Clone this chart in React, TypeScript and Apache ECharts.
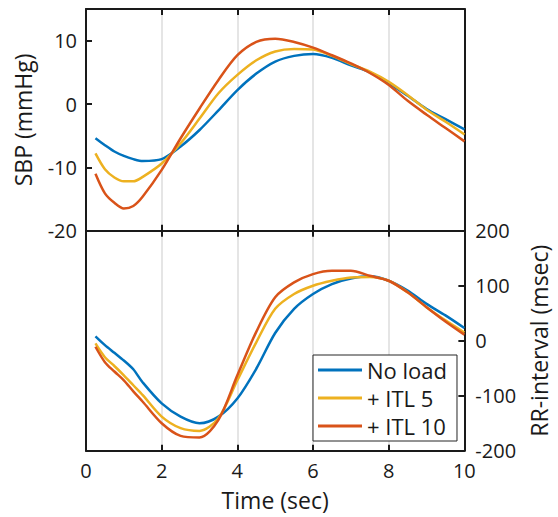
import { useEffect, useRef } from "react";
import * as echarts from "echarts";

const time = [0.25, 0.5, 0.75, 1, 1.25, 1.5, 2, 2.5, 3, 3.5, 4, 4.5, 5, 5.5, 6, 6.5, 7, 7.5, 8, 8.5, 9, 9.5, 10];
const seriesNames = ["No load", "+ ITL 5", "+ ITL 10"];
const colors = ["#0072BD", "#EDB120", "#D95319"];

const sbpNoLoad = [-5.4, -6.5, -7.5, -8.2, -8.7, -9.0, -8.7, -6.7, -4.1, -1.0, 2.2, 4.8, 6.7, 7.6, 7.9, 7.3, 6.1, 5.0, 3.3, 1.3, -0.8, -2.4, -4.0];
const sbpItl5 = [-7.8, -10.3, -11.6, -12.2, -12.2, -11.5, -9.4, -6.2, -2.3, 1.7, 4.6, 6.9, 8.3, 8.7, 8.6, 7.6, 6.3, 5.1, 3.5, 1.4, -0.9, -2.8, -4.8];
const sbpItl10 = [-11.0, -14.1, -15.6, -16.5, -16.1, -14.6, -10.4, -5.4, -0.7, 3.8, 7.7, 9.8, 10.3, 9.8, 8.9, 7.7, 6.4, 4.9, 3.0, 0.5, -1.7, -3.8, -5.9];

const rrNoLoad = [8, -8, -22, -36, -52, -76, -114, -138, -150, -138, -105, -51, 14, 58, 85, 103, 113, 117, 109, 91, 67, 46, 23];
const rrItl5 = [-5, -30, -46, -63, -81, -99, -138, -159, -164, -141, -72, -3, 58, 85, 100, 109, 115, 116, 109, 88, 61, 37, 15];
const rrItl10 = [-11, -39, -56, -72, -92, -111, -150, -173, -176, -144, -63, 16, 79, 106, 121, 127, 127, 118, 109, 88, 61, 35, 11];

const sbpRange = { min: -20, max: 15, interval: 10 };
const rrRange = { min: -200, max: 200, interval: 100 };
const timeRange = { min: 0, max: 10, interval: 2 };

const FONT = "'Open Sans', 'Noto Sans', sans-serif";
const INK = "#1a1a1a";
const GRIDC = "#dcdcdc";

export default function App() {
  const ref = useRef<HTMLDivElement>(null);
  useEffect(() => {
    if (!ref.current) return;
    const chart = echarts.init(ref.current, undefined, { renderer: "svg" });
    const pairs = (vals: number[]) => time.map((t, i) => [t, vals[i]]);
    const sbp = [sbpNoLoad, sbpItl5, sbpItl10];
    const rr = [rrNoLoad, rrItl5, rrItl10];
    const axisLine = { show: true, onZero: false, lineStyle: { color: INK, width: 2 } };
    const tickIn = { show: true, inside: true, length: 6, lineStyle: { color: INK, width: 2 } };
    const labelStyle = { fontFamily: FONT, fontSize: 20, color: INK };
    const nameStyle = { fontFamily: FONT, fontSize: 23, color: INK };

    const series: any[] = [];
    sbp.forEach((vals, i) =>
      series.push({
        type: "line",
        name: seriesNames[i],
        xAxisIndex: 0,
        yAxisIndex: 0,
        data: pairs(vals),
        showSymbol: false,
        symbol: "none",
        smooth: 0.3,
        lineStyle: { color: colors[i], width: 2.5 },
        itemStyle: { color: colors[i] },
      })
    );
    rr.forEach((vals, i) =>
      series.push({
        type: "line",
        name: seriesNames[i],
        xAxisIndex: 2,
        yAxisIndex: 3,
        data: pairs(vals),
        showSymbol: false,
        symbol: "none",
        smooth: 0.3,
        lineStyle: { color: colors[i], width: 2.5 },
        itemStyle: { color: colors[i] },
      })
    );

    chart.setOption({
      animation: false,
      backgroundColor: "#ffffff",
      textStyle: { fontFamily: FONT },
      grid: [
        { left: 86, top: 9, width: 378.5, height: 221.7 },
        { left: 86, top: 230.7, width: 378.5, height: 220 },
      ],
      xAxis: [
        {
          type: "value", gridIndex: 0, position: "bottom", ...timeRange,
          axisLine, axisTick: tickIn, axisLabel: { show: false },
          splitLine: { show: true, lineStyle: { color: GRIDC, width: 1.5 } },
        },
        {
          type: "value", gridIndex: 0, position: "top", ...timeRange,
          axisLine, axisTick: tickIn, axisLabel: { show: false }, splitLine: { show: false },
        },
        {
          type: "value", gridIndex: 1, position: "bottom", ...timeRange,
          axisLine, axisTick: tickIn,
          axisLabel: { ...labelStyle, margin: 10 },
          splitLine: { show: true, lineStyle: { color: GRIDC, width: 1.5 } },
          name: "Time (sec)", nameLocation: "middle", nameGap: 38,
          nameTextStyle: nameStyle,
        },
        {
          type: "value", gridIndex: 1, position: "top", ...timeRange,
          axisLine, axisTick: tickIn, axisLabel: { show: false }, splitLine: { show: false },
        },
      ],
      yAxis: [
        {
          type: "value", gridIndex: 0, position: "left", ...sbpRange,
          axisLine, axisTick: tickIn,
          axisLabel: { ...labelStyle, margin: 9, showMaxLabel: false },
          splitLine: { show: false },
          name: "SBP (mmHg)", nameLocation: "middle", nameGap: 52,
          nameTextStyle: nameStyle,
        },
        {
          type: "value", gridIndex: 0, position: "right", ...sbpRange,
          axisLine, axisTick: { show: false }, axisLabel: { show: false }, splitLine: { show: false },
        },
        {
          type: "value", gridIndex: 1, position: "left", ...rrRange,
          axisLine, axisTick: { show: false }, axisLabel: { show: false }, splitLine: { show: false },
        },
        {
          type: "value", gridIndex: 1, position: "right", ...rrRange,
          axisLine, axisTick: tickIn,
          axisLabel: { ...labelStyle, margin: 11 },
          splitLine: { show: false },
          name: "RR-interval (msec)", nameLocation: "middle", nameGap: 60, nameRotate: 90,
          nameTextStyle: nameStyle,
        },
      ],
      legend: {
        data: seriesNames,
        orient: "vertical",
        left: 313,
        top: 355,
        icon: "rect",
        itemWidth: 44,
        itemHeight: 3,
        itemGap: 6,
        padding: [4, 10, 4, 5],
        backgroundColor: "#ffffff",
        borderColor: "#262626",
        borderWidth: 1,
        textStyle: { fontFamily: FONT, fontSize: 22, color: INK },
      },
      series,
    });
    return () => chart.dispose();
  }, []);
  return (
    <div
      ref={ref}
      style={{ position: "fixed", left: 0, top: 0, width: 558, height: 517 }}
    />
  );
}
